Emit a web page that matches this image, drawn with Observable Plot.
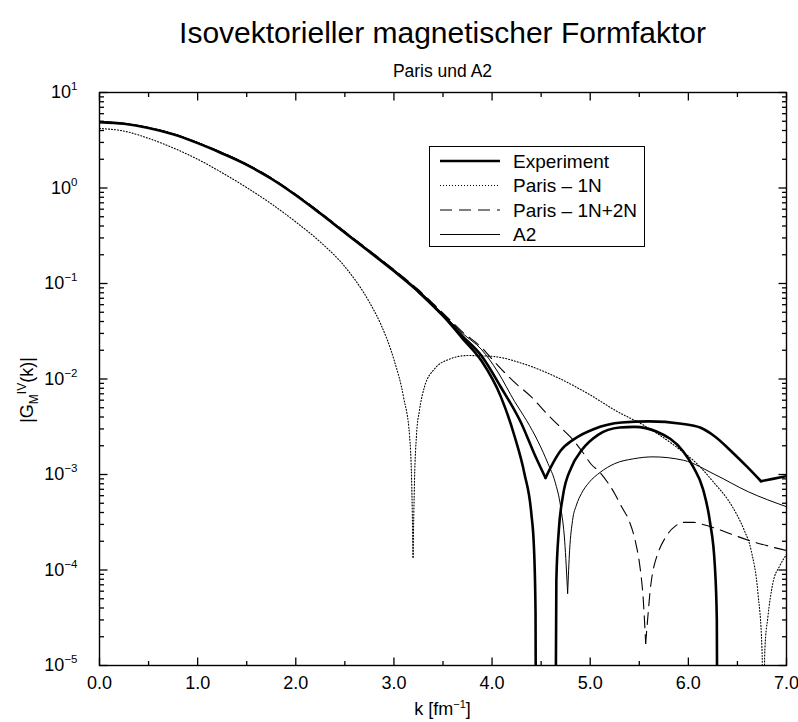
<!DOCTYPE html>
<html>
<head>
<meta charset="utf-8">
<script src="https://cdn.jsdelivr.net/npm/d3@7"></script>
<script src="https://cdn.jsdelivr.net/npm/@observablehq/plot@0.6"></script>
<style>
  body { margin: 0; background: #fff; }
  #chart svg { display: block; }
</style>
</head>
<body>
<div id="chart"></div>
<script>
// ---------- texts ----------
const titleText = "Isovektorieller magnetischer Formfaktor";
const subtitleText = "Paris und A2";
const legendLabels = ["Experiment", "Paris \u2013 1N", "Paris \u2013 1N+2N", "A2"];

// ---------- ticks ----------
const xTicks = [0, 1, 2, 3, 4, 5, 6, 7];
const xMinorTicks = [0.5, 1.5, 2.5, 3.5, 4.5, 5.5, 6.5];
const yExponents = [-5, -4, -3, -2, -1, 0, 1];

// ---------- data: |G_M^IV(k)| ----------
const kExpUpper = [0, 0.25, 0.5, 0.75, 1.0, 1.25, 1.5, 1.75, 2.0, 2.25, 2.5, 2.75, 3.0, 3.25, 3.5, 3.7, 3.89, 4.09, 4.3, 4.43, 4.545, 4.6, 4.7, 4.84, 5.04, 5.32, 5.6, 5.93, 6.12, 6.27, 6.45, 6.6, 6.74, 6.86, 7.0];
const gExpUpper = [4.9, 4.7, 4.25, 3.65, 2.95, 2.3, 1.75, 1.25, 0.84, 0.54, 0.34, 0.215, 0.135, 0.082, 0.046, 0.028, 0.0176, 0.0082, 0.0034, 0.00165, 0.00092, 0.0012, 0.00178, 0.00236, 0.0030, 0.0035, 0.0036, 0.0034, 0.0031, 0.0025, 0.0017, 0.0012, 0.00085, 0.0009, 0.00096];

const kExpLower = [3.25, 3.5, 3.7, 3.89, 4.09, 4.23, 4.33, 4.40, 4.427, 4.443, 4.45, 4.55, 4.64, 4.655, 4.68, 4.72, 4.81, 4.91, 5.08, 5.3, 5.45, 5.68, 5.95, 6.05, 6.15, 6.22, 6.27, 6.29, 6.30];
const gExpLower = [0.082, 0.046, 0.0265, 0.0156, 0.0065, 0.0025, 0.00102, 0.00039, 0.00017, 0.000035, 1e-7, null, 1e-7, 0.000078, 0.00026, 0.00058, 0.0012, 0.00178, 0.0026, 0.0031, 0.00315, 0.0028, 0.00173, 0.0012, 0.0007, 0.00032, 0.00011, 0.00003, 1e-7];

const kParis1N = [0, 0.25, 0.5, 0.75, 1.0, 1.25, 1.5, 1.75, 2.0, 2.25, 2.5, 2.75, 2.87, 3.0, 3.1, 3.16, 3.18, 3.195, 3.21, 3.23, 3.26, 3.31, 3.415, 3.55, 3.75, 3.99, 4.34, 4.68, 4.99, 5.27, 5.54, 5.85, 6.12, 6.27, 6.4, 6.5, 6.57, 6.64, 6.71, 6.75, 6.765, 6.78, 6.81, 6.86, 6.93, 7.0];
const gParis1N = [4.2, 3.94, 3.31, 2.63, 2.0, 1.445, 1.01, 0.684, 0.441, 0.272, 0.150, 0.0638, 0.0367, 0.016, 0.0063, 0.0025, 0.00089, 0.000136, 0.00089, 0.0026, 0.0047, 0.0082, 0.0128, 0.0159, 0.0176, 0.0173, 0.0142, 0.0102, 0.0069, 0.0046, 0.0033, 0.00204, 0.0012, 0.0008, 0.00055, 0.00037, 0.00026, 0.00016, 0.000056, 0.000015, 1e-6, 0.000015, 0.000032, 0.000072, 0.00011, 0.000145];

const kParis2N = [0, 0.25, 0.5, 0.75, 1.0, 1.25, 1.5, 1.75, 2.0, 2.25, 2.5, 2.75, 3.0, 3.25, 3.5, 3.7, 3.89, 4.06, 4.23, 4.40, 4.57, 4.70, 4.81, 4.92, 5.01, 5.10, 5.18, 5.25, 5.32, 5.40, 5.46, 5.51, 5.54, 5.565, 5.59, 5.61, 5.65, 5.68, 5.78, 5.87, 5.95, 6.05, 6.15, 6.29, 6.45, 6.61, 6.8, 7.0];
const gParis2N = [4.95, 4.75, 4.3, 3.7, 3.0, 2.35, 1.78, 1.28, 0.86, 0.555, 0.35, 0.222, 0.14, 0.086, 0.049, 0.031, 0.0215, 0.0138, 0.0092, 0.0065, 0.0042, 0.0031, 0.0024, 0.00173, 0.00128, 0.00105, 0.00082, 0.00063, 0.00046, 0.00032, 0.0002, 0.000102, 0.00005, 0.000017, 0.000035, 0.00006, 0.00011, 0.00014, 0.00023, 0.00029, 0.000315, 0.000315, 0.0003, 0.00027, 0.000235, 0.000205, 0.00018, 0.00016];

const kA2 = [0, 0.25, 0.5, 0.75, 1.0, 1.25, 1.5, 1.75, 2.0, 2.25, 2.5, 2.75, 3.0, 3.25, 3.5, 3.7, 3.89, 4.06, 4.23, 4.35, 4.47, 4.57, 4.64, 4.70, 4.74, 4.77, 4.79, 4.82, 4.86, 4.91, 4.99, 5.1, 5.25, 5.44, 5.64, 5.95, 6.27, 6.61, 7.0];
const gA2 = [4.95, 4.75, 4.3, 3.7, 3.0, 2.35, 1.78, 1.28, 0.86, 0.555, 0.35, 0.222, 0.14, 0.085, 0.048, 0.03, 0.0205, 0.0118, 0.0058, 0.0037, 0.0022, 0.0013, 0.00085, 0.00045, 0.0002, 0.000057, 0.00016, 0.00033, 0.00048, 0.00063, 0.00083, 0.00105, 0.0013, 0.00146, 0.00153, 0.00141, 0.001, 0.00066, 0.00046];

// ---------- helpers ----------
function toRows(ks, gs, name) {
  const rows = [];
  let seg = 0;
  for (let i = 0; i < ks.length; i++) {
    const v = gs[i];
    if (v == null) { seg++; continue; }
    rows.push({k: ks[i], g: v, seg: name + seg});
    const isMin = i > 0 && i < ks.length - 1 && gs[i - 1] != null && gs[i + 1] != null && v < gs[i - 1] && v < gs[i + 1];
    if (isMin) { seg++; rows.push({k: ks[i], g: v, seg: name + seg}); }
  }
  return rows;
}

const styles = {
  exp: {strokeWidth: 2.6, dash: null},
  p1n: {strokeWidth: 1.1, dash: "1,2"},
  p2n: {strokeWidth: 1.1, dash: "12,7"},
  a2:  {strokeWidth: 1.0, dash: null}
};

const yTicks = yExponents.map(e => Math.pow(10, e));
const yMinorTicks = [];
for (const e of yExponents.slice(0, -1)) for (let m = 2; m <= 9; m++) yMinorTicks.push(m * Math.pow(10, e));

const expLabel = e => (e < 0 ? "\u2212" + (-e) : String(e));

const lineOpts = (st) => ({x: "k", y: "g", z: "seg", curve: "monotone-x", stroke: "black",
  strokeWidth: st.strokeWidth, strokeDasharray: st.dash ?? undefined, clip: true, strokeLinejoin: "round"});

const W = 798, H = 722, MT = 92, MB = 57, ML = 99, MR = 12;
const MAJ = 8, MIN = 4.5;
const decadePx = (H - MT - MB) / 6;
// tick end positions in data units, so the library places them
const yAbove = (v, px) => v * Math.pow(10, px / decadePx);
const xIn = (px) => px * 7 / (W - ML - MR);

const tickRows = [];
for (const v of xTicks) tickRows.push({v, len: MAJ});
for (const v of xMinorTicks) tickRows.push({v, len: MIN});
const yTickRows = [];
for (const v of yTicks) yTickRows.push({v, len: MAJ});
for (const v of yMinorTicks) yTickRows.push({v, len: MIN});

const tickStyle = {stroke: "black", strokeWidth: 1.3};

const chart = Plot.plot({
  width: W,
  height: H,
  marginTop: MT,
  marginLeft: ML,
  marginRight: MR,
  marginBottom: MB,
  style: {fontFamily: "'Liberation Sans', Arial, Helvetica, sans-serif", fontSize: "18px", background: "white", color: "black"},
  x: {domain: [0, 7]},
  y: {type: "log", domain: [1e-5, 10]},
  marks: [
    Plot.line(toRows(kParis1N, gParis1N, "p1n"), lineOpts(styles.p1n)),
    Plot.line(toRows(kParis2N, gParis2N, "p2n"), lineOpts(styles.p2n)),
    Plot.line(toRows(kExpUpper, gExpUpper, "eu"), lineOpts(styles.exp)),
    Plot.line(toRows(kExpLower, gExpLower, "el"), lineOpts(styles.exp)),
    Plot.line(toRows(kA2, gA2, "a2"), lineOpts(styles.a2)),
    // inward ticks (bottom, top, left, right)
    Plot.link(tickRows, {x1: "v", x2: "v", y1: () => 1e-5, y2: d => yAbove(1e-5, d.len), ...tickStyle}),
    Plot.link(tickRows, {x1: "v", x2: "v", y1: () => 10, y2: d => yAbove(10, -d.len), ...tickStyle}),
    Plot.link(yTickRows, {y1: "v", y2: "v", x1: () => 0, x2: d => xIn(d.len), ...tickStyle}),
    Plot.link(yTickRows, {y1: "v", y2: "v", x1: () => 7, x2: d => 7 - xIn(d.len), ...tickStyle}),
    Plot.frame({stroke: "black", strokeWidth: 1.4}),
    Plot.axisX(xTicks, {tickSize: 0, tickPadding: 11, tickFormat: d => d.toFixed(1), label: null}),
    Plot.axisY(yTicks, {tickSize: 0, tickPadding: 22, tickFormat: d => expLabel(Math.round(Math.log10(d))), label: null})
  ]
});

document.getElementById("chart").appendChild(chart);
const svg = d3.select(chart);
const font = "'Liberation Sans', Arial, Helvetica, sans-serif";

svg.selectAll("text").each(function () {
  const t = this.textContent;
  if (!/^\u2212?\d+$/.test(t)) return;
  const el = d3.select(this);
  el.text("10");
  el.append("tspan").attr("dy", -8).attr("font-size", "11.5px").text(t);
});

const cx = ML + (W - ML - MR) / 2;

svg.append("text").attr("x", cx).attr("y", 43).attr("text-anchor", "middle")
  .attr("font-family", font).attr("font-size", 30).attr("fill", "black").text(titleText);
svg.append("text").attr("x", cx).attr("y", 77).attr("text-anchor", "middle")
  .attr("font-family", font).attr("font-size", 17.5).attr("fill", "black").text(subtitleText);

const xt = svg.append("text").attr("x", cx).attr("y", 715).attr("text-anchor", "middle")
  .attr("font-family", font).attr("font-size", 18).attr("fill", "black");
xt.append("tspan").text("k [fm");
xt.append("tspan").attr("dy", -7).attr("font-size", 11).text("\u22121");
xt.append("tspan").attr("dy", 7).text("]");

const yt = svg.append("text").attr("transform", "translate(33,390) rotate(-90)").attr("text-anchor", "middle")
  .attr("font-family", font).attr("font-size", 18).attr("fill", "black");
yt.append("tspan").text("|G");
yt.append("tspan").attr("dy", 5).attr("font-size", 12).text("M");
yt.append("tspan").attr("dy", -12).attr("font-size", 12).text("IV");
yt.append("tspan").attr("dy", 7).text("(k)|");

const lg = svg.append("g");
lg.append("rect").attr("x", 429.5).attr("y", 146.5).attr("width", 215).attr("height", 100)
  .attr("fill", "white").attr("stroke", "black").attr("stroke-width", 1);
const legendStyles = [styles.exp, styles.p1n, styles.p2n, styles.a2];
legendLabels.forEach((lab, i) => {
  const y = 161 + i * 24.5;
  const st = legendStyles[i];
  lg.append("line").attr("x1", 440).attr("x2", 500).attr("y1", y).attr("y2", y)
    .attr("stroke", "black").attr("stroke-width", st.strokeWidth)
    .attr("stroke-dasharray", st.dash);
  lg.append("text").attr("x", 513).attr("y", y + 6.5).attr("text-anchor", "start")
    .attr("font-family", font).attr("font-size", 19).attr("fill", "black").text(lab);
});
</script>
</body>
</html>
